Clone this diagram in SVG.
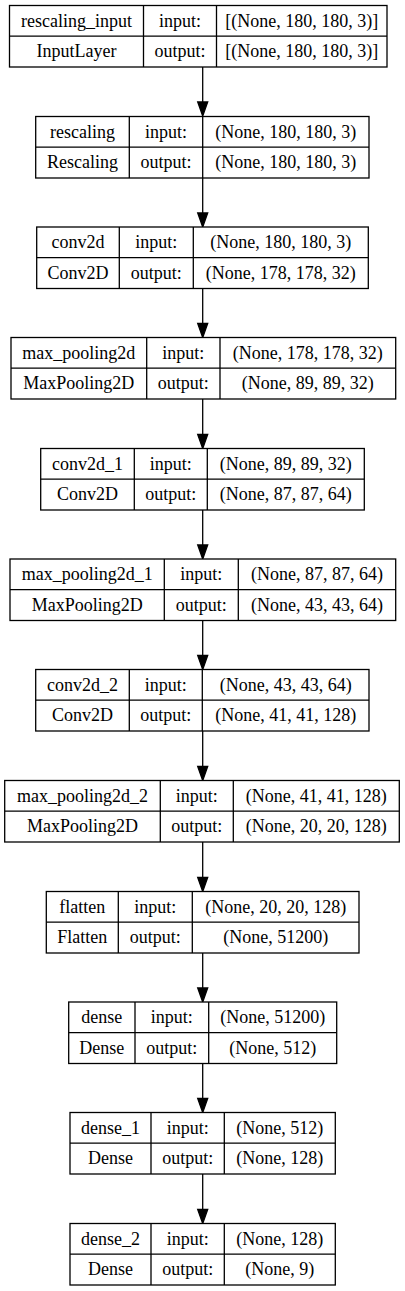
<svg xmlns="http://www.w3.org/2000/svg" width="405" height="1291" viewBox="0 0 405 1291">
<style>
.b{fill:#fff;stroke:#000;stroke-width:1.3}
.l{stroke:#000;stroke-width:1.3;fill:none}
text{font-family:"Liberation Serif","Times New Roman",serif;font-size:18px;fill:#000;text-anchor:middle}
.e{stroke:#000;stroke-width:1.3;fill:none}
.h{fill:#000;stroke:#000;stroke-width:1.3}
</style>
<rect width="405" height="1291" fill="#fff"/>
<g id="connectors">
<path class="e" d="M202.7 67V102"/><polygon class="h" points="197.7,102 207.7,102 202.7,116"/>
<path class="e" d="M202.7 178V213"/><polygon class="h" points="197.7,213 207.7,213 202.7,227"/>
<path class="e" d="M202.7 288.5V323.5"/><polygon class="h" points="197.7,323.5 207.7,323.5 202.7,337.5"/>
<path class="e" d="M202.7 399V434.5"/><polygon class="h" points="197.7,434.5 207.7,434.5 202.7,448.5"/>
<path class="e" d="M202.7 510V545"/><polygon class="h" points="197.7,545 207.7,545 202.7,559"/>
<path class="e" d="M202.7 620.5V655.5"/><polygon class="h" points="197.7,655.5 207.7,655.5 202.7,669.5"/>
<path class="e" d="M202.7 731V766.5"/><polygon class="h" points="197.7,766.5 207.7,766.5 202.7,780.5"/>
<path class="e" d="M202.7 842V877.5"/><polygon class="h" points="197.7,877.5 207.7,877.5 202.7,891.5"/>
<path class="e" d="M202.7 953V988"/><polygon class="h" points="197.7,988 207.7,988 202.7,1002"/>
<path class="e" d="M202.7 1063.5V1098.5"/><polygon class="h" points="197.7,1098.5 207.7,1098.5 202.7,1112.5"/>
<path class="e" d="M202.7 1174V1209.5"/><polygon class="h" points="197.7,1209.5 207.7,1209.5 202.7,1223.5"/>
</g>
<g id="rescaling_input">
<rect class="b" x="9.5" y="5.5" width="377.5" height="61.5"/>
<path class="l" d="M9.5 36.2H387M143.5 5.5V67M216.5 5.5V67"/>
<text x="76.5" y="26.5">rescaling_input</text><text x="180" y="26.5">input:</text><text x="301.7" y="26.5">[(None, 180, 180, 3)]</text>
<text x="76.5" y="57.2">InputLayer</text><text x="180" y="57.2">output:</text><text x="301.7" y="57.2">[(None, 180, 180, 3)]</text>
</g>
<g id="rescaling">
<rect class="b" x="35.7" y="116.5" width="333.3" height="61.5"/>
<path class="l" d="M35.7 147.2H369M129.3 116.5V178M202.7 116.5V178"/>
<text x="82.5" y="137.5">rescaling</text><text x="166" y="137.5">input:</text><text x="285.8" y="137.5">(None, 180, 180, 3)</text>
<text x="82.5" y="168.2">Rescaling</text><text x="166" y="168.2">output:</text><text x="285.8" y="168.2">(None, 180, 180, 3)</text>
</g>
<g id="conv2d">
<rect class="b" x="36.7" y="227" width="331.6" height="61.5"/>
<path class="l" d="M36.7 257.7H368.3M119.3 227V288.5M193.3 227V288.5"/>
<text x="78" y="248">conv2d</text><text x="156.3" y="248">input:</text><text x="280.8" y="248">(None, 180, 180, 3)</text>
<text x="78" y="278.7">Conv2D</text><text x="156.3" y="278.7">output:</text><text x="280.8" y="278.7">(None, 178, 178, 32)</text>
</g>
<g id="max_pooling2d">
<rect class="b" x="11" y="337.5" width="384.7" height="61.5"/>
<path class="l" d="M11 368.2H395.7M146.7 337.5V399M220 337.5V399"/>
<text x="78.8" y="358.5">max_pooling2d</text><text x="183.3" y="358.5">input:</text><text x="307.8" y="358.5">(None, 178, 178, 32)</text>
<text x="78.8" y="389.2">MaxPooling2D</text><text x="183.3" y="389.2">output:</text><text x="307.8" y="389.2">(None, 89, 89, 32)</text>
</g>
<g id="conv2d_1">
<rect class="b" x="40.7" y="448.5" width="323.6" height="61.5"/>
<path class="l" d="M40.7 479.2H364.3M134.3 448.5V510M207.3 448.5V510"/>
<text x="87.5" y="469.5">conv2d_1</text><text x="170.8" y="469.5">input:</text><text x="285.8" y="469.5">(None, 89, 89, 32)</text>
<text x="87.5" y="500.2">Conv2D</text><text x="170.8" y="500.2">output:</text><text x="285.8" y="500.2">(None, 87, 87, 64)</text>
</g>
<g id="max_pooling2d_1">
<rect class="b" x="10" y="559" width="385.7" height="61.5"/>
<path class="l" d="M10 589.7H395.7M164.3 559V620.5M238.3 559V620.5"/>
<text x="87.2" y="580">max_pooling2d_1</text><text x="201.3" y="580">input:</text><text x="317" y="580">(None, 87, 87, 64)</text>
<text x="87.2" y="610.7">MaxPooling2D</text><text x="201.3" y="610.7">output:</text><text x="317" y="610.7">(None, 43, 43, 64)</text>
</g>
<g id="conv2d_2">
<rect class="b" x="35.7" y="669.5" width="333.3" height="61.5"/>
<path class="l" d="M35.7 700.2H369M129.3 669.5V731M202.3 669.5V731"/>
<text x="82.5" y="690.5">conv2d_2</text><text x="165.8" y="690.5">input:</text><text x="285.7" y="690.5">(None, 43, 43, 64)</text>
<text x="82.5" y="721.2">Conv2D</text><text x="165.8" y="721.2">output:</text><text x="285.7" y="721.2">(None, 41, 41, 128)</text>
</g>
<g id="max_pooling2d_2">
<rect class="b" x="4.7" y="780.5" width="394.6" height="61.5"/>
<path class="l" d="M4.7 811.2H399.3M160.3 780.5V842M233.3 780.5V842"/>
<text x="82.5" y="801.5">max_pooling2d_2</text><text x="196.8" y="801.5">input:</text><text x="316.3" y="801.5">(None, 41, 41, 128)</text>
<text x="82.5" y="832.2">MaxPooling2D</text><text x="196.8" y="832.2">output:</text><text x="316.3" y="832.2">(None, 20, 20, 128)</text>
</g>
<g id="flatten">
<rect class="b" x="46.3" y="891.5" width="312.7" height="61.5"/>
<path class="l" d="M46.3 922.2H359M118.3 891.5V953M192.3 891.5V953"/>
<text x="82.3" y="912.5">flatten</text><text x="155.3" y="912.5">input:</text><text x="275.7" y="912.5">(None, 20, 20, 128)</text>
<text x="82.3" y="943.2">Flatten</text><text x="155.3" y="943.2">output:</text><text x="275.7" y="943.2">(None, 51200)</text>
</g>
<g id="dense">
<rect class="b" x="68.7" y="1002" width="268" height="61.5"/>
<path class="l" d="M68.7 1032.7H336.7M135 1002V1063.5M208.7 1002V1063.5"/>
<text x="101.8" y="1023">dense</text><text x="171.8" y="1023">input:</text><text x="272.7" y="1023">(None, 51200)</text>
<text x="101.8" y="1053.7">Dense</text><text x="171.8" y="1053.7">output:</text><text x="272.7" y="1053.7">(None, 512)</text>
</g>
<g id="dense_1">
<rect class="b" x="70" y="1112.5" width="265.3" height="61.5"/>
<path class="l" d="M70 1143.2H335.3M151 1112.5V1174M224.3 1112.5V1174"/>
<text x="110.5" y="1133.5">dense_1</text><text x="187.7" y="1133.5">input:</text><text x="279.8" y="1133.5">(None, 512)</text>
<text x="110.5" y="1164.2">Dense</text><text x="187.7" y="1164.2">output:</text><text x="279.8" y="1164.2">(None, 128)</text>
</g>
<g id="dense_2">
<rect class="b" x="70" y="1223.5" width="265.3" height="61.5"/>
<path class="l" d="M70 1254.2H335.3M151 1223.5V1285M224.3 1223.5V1285"/>
<text x="110.5" y="1244.5">dense_2</text><text x="187.7" y="1244.5">input:</text><text x="279.8" y="1244.5">(None, 128)</text>
<text x="110.5" y="1275.2">Dense</text><text x="187.7" y="1275.2">output:</text><text x="279.8" y="1275.2">(None, 9)</text>
</g>
</svg>
